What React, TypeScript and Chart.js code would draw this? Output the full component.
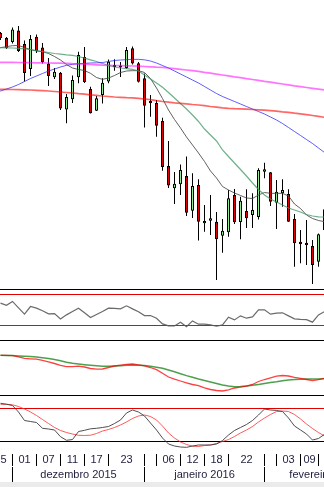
import React, { useEffect, useRef } from 'react';
import { Chart, registerables } from 'chart.js';

Chart.register(...registerables);

// ---- candles (index 0 = first session at the left edge, step = 1 session) ----
const OPEN = [
  45010, 44860, 44740, 45085, 44680, 43930, 44900, 44575, 44095, 43680,
  43820, 42715, 43020, 43680, 44290, 43330, 42680, 43150, 43555, 44050,
  44035, 43960, 44550, 44100, 43650, 42970, 42910, 42370, 41020, 40350,
  40470, 40720, 39680, 40450, 39300, 39380, 39350, 38930, 39030, 40150,
  39340, 39670, 39550, 39490, 40850, 40830, 39920, 40200, 40180, 39430,
  38750, 38720, 38620, 38150, 39100,
];
const HIGH = [
  45040, 44890, 45175, 45220, 44785, 44950, 44965, 44710, 44260, 43960,
  43840, 43180, 43735, 44450, 44590, 43400, 43120, 43650, 44215, 44220,
  44140, 44590, 44605, 44140, 43795, 43150, 43000, 42470, 41770, 40840,
  41065, 41305, 40800, 40620, 39850, 40150, 39640, 39430, 40300, 40330,
  40100, 40320, 40200, 40950, 41120, 40840, 40600, 40620, 40320, 39580,
  39100, 39400, 38800, 38995, 39850,
];
const LOW = [
  44800, 44530, 44695, 44440, 43555, 43720, 44410, 44095, 43420, 43630,
  42700, 42300, 42910, 43500, 43510, 42595, 42670, 42895, 43500, 43880,
  43690, 43930, 44065, 43525, 42175, 42500, 41900, 40880, 40360, 39880,
  40150, 39520, 39460, 38785, 39050, 38950, 37600, 38420, 38900, 39280,
  38820, 39160, 39160, 39415, 40650, 39820, 39130, 39800, 39340, 38000,
  38100, 38050, 37480, 38000, 39040,
];
const CLOSE = [
  44860, 44560, 45115, 44470, 43810, 44830, 44470, 44140, 43720, 43850,
  42745, 43090, 43600, 44350, 43540, 42600, 43050, 43520, 44150, 43990,
  43975, 44500, 44095, 43550, 42825, 42900, 42230, 40990, 40435, 40490,
  40900, 39620, 40420, 39350, 39370, 39450, 38820, 39080, 40050, 39330,
  39980, 39450, 39700, 40900, 40920, 39950, 40250, 40300, 39350, 38700,
  38670, 38640, 38050, 38970, 39720,
];

// ---- moving averages (first value belongs to session index -1) ----
const MA_FIRST_INDEX = -1;
const MA_MAGENTA = [
  44130, 44130, 44130, 44130, 44125, 44120, 44120, 44115, 44115, 44110,
  44105, 44105, 44100, 44090, 44085, 44075, 44065, 44055, 44045, 44040,
  44035, 44030, 44025, 44020, 44015, 44005, 43995, 43985, 43980, 43960,
  43940, 43920, 43900, 43880, 43860, 43830, 43805, 43775, 43750, 43725,
  43695, 43670, 43640, 43615, 43590, 43560, 43535, 43505, 43480, 43455,
  43425, 43400, 43375, 43350, 43325, 43300,
];
const MA_RED = [
  43325, 43320, 43320, 43315, 43310, 43305, 43300, 43290, 43280, 43270,
  43255, 43240, 43225, 43210, 43190, 43175, 43155, 43140, 43120, 43105,
  43090, 43080, 43070, 43065, 43050, 43030, 43010, 42980, 42955, 42935,
  42915, 42900, 42885, 42865, 42850, 42830, 42805, 42785, 42765, 42750,
  42740, 42735, 42725, 42715, 42705, 42695, 42680, 42665, 42645, 42630,
  42605, 42585, 42560, 42535, 42510, 42480,
];
const MA_BLUE = [
  43195, 43270, 43330, 43390, 43465, 43555, 43645, 43720, 43795, 43870,
  43930, 43990, 44040, 44070, 44090, 44100, 44110, 44115, 44125, 44155,
  44185, 44200, 44210, 44220, 44220, 44205, 44170, 44110, 44035, 43960,
  43870, 43780, 43690, 43600, 43510, 43405, 43300, 43195, 43105, 43030,
  42955, 42880, 42805, 42730, 42655, 42580, 42490, 42400, 42295, 42175,
  42055, 41935, 41815, 41695, 41560, 41425,
];
const MA_GREEN = [
  44575, 44570, 44565, 44560, 44550, 44535, 44515, 44485, 44455, 44425,
  44395, 44375, 44355, 44340, 44305, 44255, 44205, 44155, 44095, 44035,
  43990, 43960, 43940, 43920, 43870, 43750, 43630, 43510, 43380, 43225,
  43060, 42895, 42730, 42550, 42355, 42130, 41950, 41770, 41500, 41305,
  41110, 40915, 40720, 40510, 40315, 40150, 40030, 39940, 39850, 39760,
  39700, 39640, 39565, 39520, 39495, 39490,
];
const MA_GRAY = [
  44530, 44570, 44600, 44630, 44635, 44575, 44510, 44470, 44450, 44395,
  44305, 44200, 44065, 43960, 43915, 43885, 43800, 43675, 43620, 43660,
  43735, 43825, 43870, 43880, 43880, 43825, 43645, 43360, 43045, 42700,
  42415, 42160, 41890, 41650, 41410, 41155, 40870, 40660, 40405, 40300,
  40210, 40135, 40060, 40045, 40150, 40225, 40200, 40200, 40200, 40120,
  39880, 39745, 39550, 39445, 39385, 39350,
];

// ---- oscillators (first value belongs to session index 0) ----
const OSC_FIRST_INDEX = 0;
const RSI = [
  58.4, 55.5, 60.5, 52.3, 44.2, 54.0, 51.9, 48.5, 44.6, 45.0,
  38.1, 43.3, 47.5, 51.9, 45.9, 39.8, 43.7, 47.5, 51.9, 51.7,
  51.0, 54.9, 51.0, 47.2, 42.4, 42.4, 39.0, 31.7, 29.1, 29.1,
  33.9, 28.2, 35.5, 31.3, 31.3, 30.4, 28.7, 30.4, 40.3, 36.8,
  42.0, 39.0, 40.7, 49.7, 49.7, 44.2, 45.5, 45.9, 42.0, 38.1,
  37.5, 37.2, 33.9, 43.3, 47.5,
];
const MACD = [
  -12, -12, -24, -72, -136, -152, -168, -212, -272, -340,
  -412, -464, -464, -448, -480, -540, -568, -560, -500, -440,
  -408, -372, -360, -392, -432, -500, -588, -732, -880, -968,
  -1040, -1112, -1180, -1228, -1312, -1380, -1420, -1440, -1392, -1320,
  -1288, -1248, -1180, -1060, -980, -912, -848, -820, -840, -892,
  -932, -980, -1028, -988, -932,
];
const MACD_SIGNAL = [
  -12, -16, -24, -36, -52, -64, -80, -108, -140, -180,
  -228, -288, -332, -360, -388, -412, -432, -448, -448, -440,
  -428, -412, -400, -408, -424, -452, -488, -532, -600, -672,
  -748, -824, -892, -960, -1020, -1080, -1140, -1200, -1240, -1268,
  -1264, -1240, -1212, -1180, -1140, -1100, -1068, -1028, -1000, -980,
  -968, -960, -960, -960, -944,
];
const STOCH_K = [
  89.2, 87.5, 85.1, 73.2, 57.6, 55.8, 53.9, 43.3, 42.0, 40.2,
  27.9, 21.3, 22.7, 37.4, 39.6, 42.4, 43.3, 44.8, 46.6, 52.1,
  58.5, 71.4, 76.9, 73.2, 65.9, 53.0, 40.2, 25.5, 14.5, 10.8,
  9.0, 8.4, 10.8, 12.7, 12.7, 12.7, 14.5, 20.9, 31.0, 39.3,
  44.8, 50.3, 57.6, 67.7, 78.7, 76.9, 76.0, 74.1, 62.2, 47.5,
  40.2, 32.8, 21.8, 24.6, 32.3,
];
const STOCH_D = [
  87.3, 87.3, 86.4, 83.3, 78.7, 73.2, 66.8, 59.4, 52.1, 44.8,
  39.3, 35.6, 32.8, 30.5, 30.1, 30.6, 33.8, 38.3, 41.1, 44.8,
  49.4, 54.9, 61.3, 65.9, 67.7, 65.0, 58.5, 47.5, 34.7, 25.5,
  18.2, 13.6, 10.5, 9.9, 11.7, 12.7, 15.4, 19.1, 22.7, 28.3,
  34.7, 40.2, 46.6, 54.9, 62.2, 68.6, 74.1, 75.0, 74.1, 68.6,
  60.4, 51.2, 42.9, 35.6, 29.2,
];

const RSI_HIGH = 70;
const RSI_LOW = 30;
const STOCH_HIGH = 80;
const STOCH_LOW = 20;

// ---- time axis labels (cells bounded by session indices) ----
const DAY_LABELS = ['25', '01', '07', '11', '17', '23', '', '06', '12', '18', '22', '', '03', '09', ''];
const DAY_BOUNDS = [-2, 2, 6, 10, 14, 18, 24, 26, 30, 34, 38, 44, 46, 50, 53, 57];
const MONTH_LABELS = ['novembro 2015', 'dezembro 2015', 'janeiro 2016', 'fevereiro 2016'];
const MONTH_BOUNDS = [-20, 2, 24, 44, 64];

const series = (values: number[], first: number) =>
  values.map((v, i) => ({ x: first + i, y: v }));

const decorPlugin = {
  id: 'decor',
  beforeDatasetsDraw(chart: any) {
    const { ctx, scales } = chart;
    const w = chart.width;
    const hline = (y: number, color: string) => {
      ctx.fillStyle = color;
      ctx.fillRect(0, Math.round(y - 0.5), w, 1);
    };
    ctx.save();
    hline(scales.rsi.top, '#000000');
    hline(scales.rsi.getPixelForValue(RSI_HIGH), '#e00000');
    hline(scales.rsi.getPixelForValue(RSI_LOW), '#008000');
    hline(scales.macd.top, '#000000');
    hline(scales.stoch.top, '#000000');
    hline(scales.stoch.getPixelForValue(STOCH_HIGH), '#e00000');
    hline(scales.stoch.getPixelForValue(STOCH_LOW), '#000000');
    ctx.restore();
  },
  afterDraw(chart: any) {
    const { ctx, scales, chartArea } = chart;
    const x = scales.x;
    const base = chartArea.bottom;
    ctx.save();
    ctx.fillStyle = '#ebebeb';
    ctx.fillRect(0, base + 29, chart.width, chart.height - base - 29);
    ctx.fillStyle = '#000000';
    DAY_BOUNDS.forEach((b) => ctx.fillRect(Math.round(x.getPixelForValue(b) - 0.5), base + 1, 1, 12));
    MONTH_BOUNDS.forEach((b) => ctx.fillRect(Math.round(x.getPixelForValue(b) - 0.5), base + 14, 1, 15));
    ctx.font = '11px "Liberation Sans", Arial, sans-serif';
    ctx.textAlign = 'center';
    ctx.textBaseline = 'alphabetic';
    ctx.fillStyle = '#1e1e3c';
    DAY_LABELS.forEach((t, i) => {
      const c = (x.getPixelForValue(DAY_BOUNDS[i]) + x.getPixelForValue(DAY_BOUNDS[i + 1])) / 2;
      ctx.fillText(t, c, base + 10);
    });
    MONTH_LABELS.forEach((t, i) => {
      const c = (x.getPixelForValue(MONTH_BOUNDS[i]) + x.getPixelForValue(MONTH_BOUNDS[i + 1])) / 2;
      ctx.fillText(t, c, base + 25);
    });
    ctx.restore();
  },
};

export default function App() {
  const ref = useRef<HTMLCanvasElement | null>(null);

  useEffect(() => {
    if (!ref.current) return;
    const wicks = OPEN.map((_, k) => ({ x: k, y: [LOW[k], HIGH[k]] }));
    const bodies = OPEN.map((o, k) => ({ x: k, y: [o, CLOSE[k]] }));
    const bodyColors = OPEN.map((o, k) => (CLOSE[k] >= o ? '#90ee90' : '#e00000'));

    const line = (label: string, data: any[], color: string, width: number, axis: string) => ({
      type: 'line' as const,
      label,
      data,
      borderColor: color,
      borderWidth: width,
      pointRadius: 0,
      tension: 0,
      fill: false,
      yAxisID: axis,
      order: 0,
    });

    const chart = new Chart(ref.current, {
      type: 'bar',
      data: {
        datasets: [
          line('MA longa', series(MA_MAGENTA, MA_FIRST_INDEX), 'rgba(255,0,255,0.55)', 1.7, 'y'),
          line('MA 100', series(MA_RED, MA_FIRST_INDEX), 'rgba(255,0,0,0.6)', 1.7, 'y'),
          line('MA 50', series(MA_BLUE, MA_FIRST_INDEX), 'rgba(40,40,255,0.75)', 1, 'y'),
          line('MA 21', series(MA_GREEN, MA_FIRST_INDEX), 'rgba(60,150,100,0.75)', 1.2, 'y'),
          line('MA 9', series(MA_GRAY, MA_FIRST_INDEX), 'rgba(70,70,70,0.85)', 1, 'y'),
          line('IFR', series(RSI, OSC_FIRST_INDEX), 'rgba(90,90,90,0.9)', 1.2, 'rsi'),
          line('MACD', series(MACD, OSC_FIRST_INDEX), 'rgba(255,0,0,0.75)', 1.3, 'macd'),
          line('Sinal', series(MACD_SIGNAL, OSC_FIRST_INDEX), 'rgba(0,120,0,0.7)', 1.5, 'macd'),
          line('%K', series(STOCH_K, OSC_FIRST_INDEX), 'rgba(60,60,60,0.9)', 1, 'stoch'),
          line('%D', series(STOCH_D, OSC_FIRST_INDEX), 'rgba(255,50,50,0.8)', 1, 'stoch'),
          {
            type: 'bar' as const,
            label: 'corpo',
            data: bodies as any,
            backgroundColor: bodyColors,
            borderColor: '#000000',
            borderWidth: 1,
            borderSkipped: false,
            grouped: false,
            maxBarThickness: 3,
            inflateAmount: 0,
            yAxisID: 'y',
            order: 1,
          } as any,
          {
            type: 'bar' as const,
            label: 'sombra',
            data: wicks as any,
            backgroundColor: '#000000',
            borderWidth: 0,
            grouped: false,
            maxBarThickness: 1,
            inflateAmount: 0,
            yAxisID: 'y',
            order: 2,
          } as any,
        ],
      },
      options: {
        responsive: false,
        animation: false,
        events: [],
        layout: { padding: { left: 0, right: 0, top: 0, bottom: 34 } },
        plugins: { legend: { display: false }, tooltip: { enabled: false } },
        scales: {
          x: { type: 'linear', display: false, offset: false, min: -1 / 12, max: 54 - 1 / 12 },
          y: { type: 'linear', display: false, position: 'left', stack: 'panels', stackWeight: 289, weight: 4, min: 37330, max: 46000 },
          rsi: { type: 'linear', display: false, position: 'left', stack: 'panels', stackWeight: 51, weight: 3, min: 11, max: 76.5 },
          macd: { type: 'linear', display: false, position: 'left', stack: 'panels', stackWeight: 55, weight: 2, min: -1600, max: 600 },
          stoch: { type: 'linear', display: false, position: 'left', stack: 'panels', stackWeight: 58, weight: 1, min: -2, max: 104.4 },
        } as any,
      },
      plugins: [decorPlugin],
    });
    return () => chart.destroy();
  }, []);

  return (
    <div style={{ position: 'fixed', left: 0, top: 0, width: 324, height: 487, background: '#ffffff' }}>
      <canvas ref={ref} width={324} height={487} style={{ display: 'block' }} />
    </div>
  );
}
